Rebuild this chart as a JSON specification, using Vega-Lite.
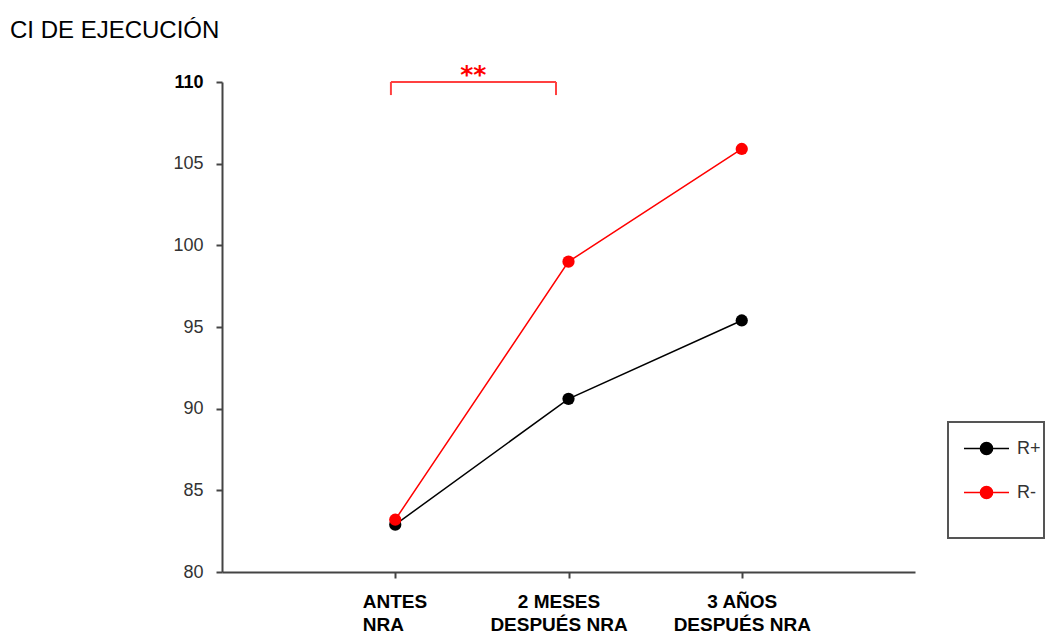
{
  "$schema": "https://vega.github.io/schema/vega-lite/v6.json",
  "width": 693,
  "height": 490,
  "autosize": {"type": "none"},
  "padding": {"left": 222, "top": 82, "right": 133, "bottom": 61},
  "background": "white",
  "title": {
    "text": "CI DE EJECUCIÓN",
    "anchor": "start",
    "frame": "group",
    "dx": -212,
    "offset": 20,
    "font": "Liberation Sans",
    "fontSize": 24,
    "fontWeight": "normal",
    "color": "#000000"
  },
  "config": {
    "view": {"stroke": null},
    "axis": {
      "grid": false,
      "domainColor": "#444444",
      "domainWidth": 2,
      "tickColor": "#444444",
      "tickWidth": 2,
      "tickSize": 6,
      "labelFont": "Liberation Sans",
      "labelColor": "#333333",
      "title": null
    }
  },
  "datasets": {
    "ci": [
      {"momento": "ANTES NRA", "orden": 1, "grupo": "R+", "ci": 82.9},
      {"momento": "2 MESES DESPUÉS NRA", "orden": 2, "grupo": "R+", "ci": 90.6},
      {"momento": "3 AÑOS DESPUÉS NRA", "orden": 3, "grupo": "R+", "ci": 95.4},
      {"momento": "ANTES NRA", "orden": 1, "grupo": "R-", "ci": 83.2},
      {"momento": "2 MESES DESPUÉS NRA", "orden": 2, "grupo": "R-", "ci": 99.0},
      {"momento": "3 AÑOS DESPUÉS NRA", "orden": 3, "grupo": "R-", "ci": 105.9}
    ],
    "significacion": [
      {"desde": 0.975, "hasta": 1.928, "centro": 1.45, "nivel": 110, "pie": 109.2, "rotulo": "**"}
    ]
  },
  "layer": [
    {
      "data": {"name": "ci"},
      "encoding": {
        "x": {
          "field": "orden",
          "type": "quantitative",
          "scale": {"domain": [0, 4], "nice": false, "zero": false},
          "axis": {
            "values": [1, 2, 3],
            "labelExpr": "datum.value == 1 ? ['ANTES', 'NRA'] : datum.value == 2 ? ['2 MESES', 'DESPUÉS NRA'] : ['3 AÑOS', 'DESPUÉS NRA']",
            "labelFontSize": 19,
            "labelFontWeight": "bold",
            "labelColor": "#000000",
            "labelPadding": 14,
            "labelLineHeight": 23,
            "labelAlign": {"condition": {"test": "datum.value == 1", "value": "left"}, "value": "center"},
            "labelOffset": {"condition": [{"test": "datum.value == 1", "value": -33}, {"test": "datum.value == 2", "value": -10}], "value": 0},
            "labelFlush": false,
            "labelOverlap": false
          }
        },
        "y": {
          "field": "ci",
          "type": "quantitative",
          "scale": {"domain": [80, 110], "nice": false, "zero": false},
          "axis": {
            "values": [80, 85, 90, 95, 100, 105, 110],
            "labelFontSize": 18,
            "labelPadding": 13,
            "labelFontWeight": {"condition": {"test": "datum.value == 110", "value": "bold"}, "value": "normal"},
            "labelColor": {"condition": {"test": "datum.value == 110", "value": "#000000"}, "value": "#333333"}
          }
        },
        "color": {
          "field": "grupo",
          "type": "nominal",
          "scale": {"domain": ["R+", "R-"], "range": ["#000000", "#ff0000"]},
          "legend": {
            "title": "\u00a0",
            "titleOrient": "bottom",
            "titleFontSize": 14,
            "titlePadding": 19,
            "orient": "none",
            "legendX": 726,
            "legendY": 340,
            "padding": 3,
            "strokeColor": "#555555",
            "fillColor": "white",
            "symbolType": "M-1,0H1M0.27,0A0.27,0.27,0,1,1,-0.27,0A0.27,0.27,0,1,1,0.27,0Z",
            "symbolSize": 2025,
            "symbolStrokeWidth": 1.5,
            "symbolOffset": 12,
            "labelOffset": 7,
            "labelFont": "Liberation Sans",
            "labelFontSize": 18,
            "labelColor": "#333333",
            "rowPadding": 11,
            "encode": {
              "symbols": {"update": {"fill": {"scale": "color", "field": "value"}, "fillOpacity": {"value": 1}}},
              "legend": {"update": {"strokeWidth": {"value": 2}}}
            }
          }
        }
      },
      "layer": [
        {"mark": {"type": "line", "strokeWidth": 1.5}},
        {"mark": {"type": "point", "filled": true, "opacity": 1, "size": 150}}
      ]
    },
    {
      "data": {"name": "significacion"},
      "mark": {"type": "rule", "color": "#ff4040", "strokeWidth": 2},
      "encoding": {
        "x": {"field": "desde", "type": "quantitative"},
        "x2": {"field": "hasta"},
        "y": {"field": "nivel", "type": "quantitative"}
      }
    },
    {
      "data": {"name": "significacion"},
      "mark": {"type": "rule", "color": "#ff4040", "strokeWidth": 2},
      "encoding": {
        "x": {"field": "desde", "type": "quantitative"},
        "y": {"field": "nivel", "type": "quantitative"},
        "y2": {"field": "pie"}
      }
    },
    {
      "data": {"name": "significacion"},
      "mark": {"type": "rule", "color": "#ff4040", "strokeWidth": 2},
      "encoding": {
        "x": {"field": "hasta", "type": "quantitative"},
        "y": {"field": "nivel", "type": "quantitative"},
        "y2": {"field": "pie"}
      }
    },
    {
      "data": {"name": "significacion"},
      "mark": {"type": "text", "color": "#ff0000", "font": "DejaVu Sans", "fontSize": 25, "fontWeight": "bold", "baseline": "alphabetic", "align": "center", "dy": 1},
      "encoding": {
        "x": {"field": "centro", "type": "quantitative"},
        "y": {"field": "nivel", "type": "quantitative"},
        "text": {"field": "rotulo"}
      }
    }
  ]
}
